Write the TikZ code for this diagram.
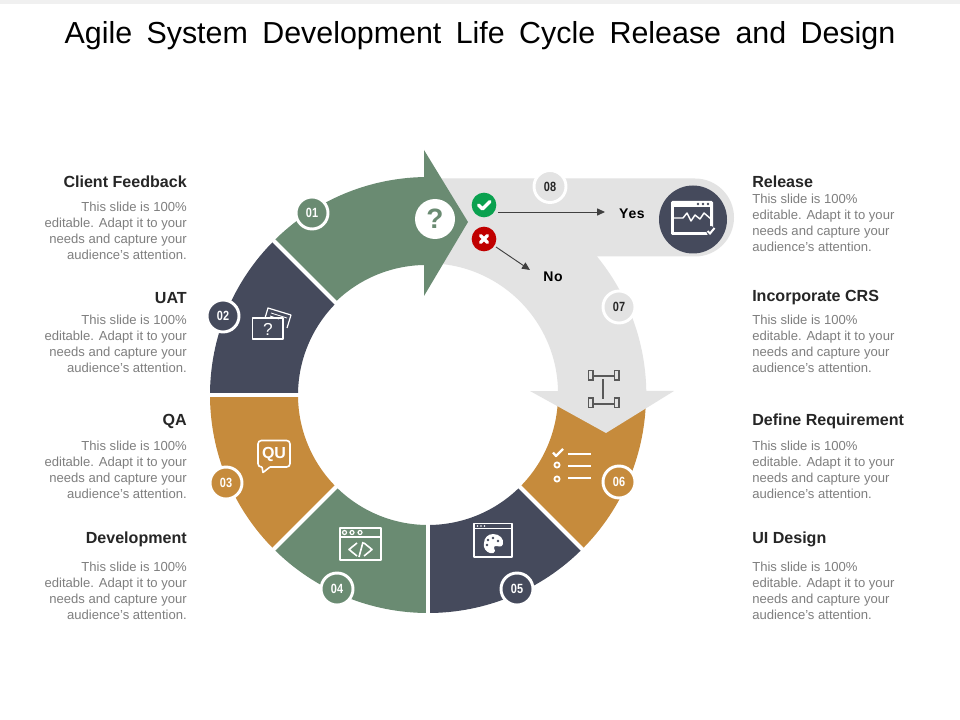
\documentclass[tikz,border=0pt]{standalone}
\usepackage{fontspec}
\setmainfont{Liberation Sans}
\newfontfamily\narrowf[FakeStretch=0.82]{Liberation Sans}
\newfontfamily\ansf[LetterSpace=5]{Liberation Sans}
\usetikzlibrary{arrows.meta}
\definecolor{cgreen}{HTML}{6A8B72}
\definecolor{cnavy}{HTML}{454A5C}
\definecolor{corange}{HTML}{C68B3C}
\definecolor{cgrey}{HTML}{E3E3E3}
\definecolor{ctext}{HTML}{7F7F7F}
\definecolor{cdark}{HTML}{262626}
\definecolor{cicon}{HTML}{595959}
\definecolor{cok}{HTML}{0AA14F}
\definecolor{cko}{HTML}{C00000}
\tikzset{
  head/.style={inner sep=0pt,text=cdark,font=\fontsize{12.05}{14}\selectfont\bfseries},
  bodyl/.style={inner sep=0pt,anchor=east,align=right,text=ctext,font=\fontsize{9.8}{12}\selectfont},
  bodyr/.style={inner sep=0pt,anchor=west,align=left,text=ctext,font=\fontsize{9.8}{12}\selectfont},
  badge/.style={circle,minimum size=24pt,inner sep=0pt,draw=white,line width=2.2pt,font=\fontsize{10}{11}\narrowf\bfseries},
  ico/.style={draw=white,line width=1.2pt,line join=round},
  ans/.style={inner sep=0pt,text=black,font=\fontsize{10.5}{12}\ansf\bfseries},
  flow/.style={draw=black!75,line width=0.7pt,-{Triangle[length=6pt,width=5.4pt]}}
}
\begin{document}
\begin{tikzpicture}[x=0.75pt,y=-0.75pt]
\useasboundingbox (0,0) rectangle (960,720);
\fill[white] (0,0) rectangle (960,720);
\fill[black!6] (0,0) rectangle (960,4);
\node[inner sep=0pt,text=black,font=\fontsize{22.8}{28}\selectfont] (title) at (480,36) {\spaceskip=10.8pt Agile System Development Life Cycle Release and Design};

% ring
\begin{scope}[shift={(428,395)},x=0.75pt,y=0.75pt]
  \fill[cnavy] (135:218) arc[start angle=135,end angle=180,radius=163.5pt] -- (180:130) arc[start angle=180,end angle=135,radius=97.5pt] -- cycle;
  \fill[corange] (180:218) arc[start angle=180,end angle=225,radius=163.5pt] -- (225:130) arc[start angle=225,end angle=180,radius=97.5pt] -- cycle;
  \fill[cgreen] (225:218) arc[start angle=225,end angle=270,radius=163.5pt] -- (270:130) arc[start angle=270,end angle=225,radius=97.5pt] -- cycle;
  \fill[cnavy] (270:218) arc[start angle=270,end angle=315,radius=163.5pt] -- (315:130) arc[start angle=315,end angle=270,radius=97.5pt] -- cycle;
  \fill[corange] (315:218) arc[start angle=315,end angle=360,radius=163.5pt] -- (0:130) arc[start angle=360,end angle=315,radius=97.5pt] -- cycle;
  % grey flow
  \fill[cgrey] (0,216.5) -- (267,216.5) arc[start angle=90,end angle=-90,radius=29.25pt] -- (169,138.5)
     arc[start angle=39.3,end angle=1,radius=163.5pt] -- (246,4) -- (178,-38) -- (102,4) -- (130,4)
     arc[start angle=1,end angle=90,radius=97.5pt] -- cycle;
  % green arrow
  \fill[cgreen] (135:218) arc[start angle=135,end angle=91,radius=163.5pt] -- (-4,245) -- (40,173) -- (-4,99) -- (-4,130)
     arc[start angle=91,end angle=135,radius=97.5pt] -- cycle;
  % gaps
  \foreach \a in {135,180,225,270,315}
    \draw[white,line width=3pt] (\a:126) -- (\a:222);
\end{scope}

% labels left
\node[head,anchor=east] (h1) at (187,181.5) {Client Feedback};
\node[bodyl] (b1) at (187,231) {This slide is 100\%\\editable. Adapt it to your\\needs and capture your\\audience's attention.};
\node[head,anchor=east] (h2) at (187,298) {UAT};
\node[bodyl] (b2) at (187,344) {This slide is 100\%\\editable. Adapt it to your\\needs and capture your\\audience's attention.};
\node[head,anchor=east] (h3) at (187,421) {QA};
\node[bodyl] (b3) at (187,470) {This slide is 100\%\\editable. Adapt it to your\\needs and capture your\\audience's attention.};
\node[head,anchor=east] (h4) at (187,539) {Development};
\node[bodyl] (b4) at (187,591) {This slide is 100\%\\editable. Adapt it to your\\needs and capture your\\audience's attention.};
% labels right
\node[head,anchor=west] (h5) at (752,181.5) {Release};
\node[bodyr] (b5) at (752,223) {This slide is 100\%\\editable. Adapt it to your\\needs and capture your\\audience's attention.};
\node[head,anchor=west] (h6) at (752,298) {Incorporate CRS};
\node[bodyr] (b6) at (752,344) {This slide is 100\%\\editable. Adapt it to your\\needs and capture your\\audience's attention.};
\node[head,anchor=west] (h7) at (752,421) {Define Requirement};
\node[bodyr] (b7) at (752,470) {This slide is 100\%\\editable. Adapt it to your\\needs and capture your\\audience's attention.};
\node[head,anchor=west] (h8) at (752,539) {UI Design};
\node[bodyr] (b8) at (752,591) {This slide is 100\%\\editable. Adapt it to your\\needs and capture your\\audience's attention.};

% badges
\node[badge,fill=cgreen,text=white] (n1) at (312,213) {01};
\node[badge,fill=cnavy,text=white] (n2) at (223,316) {02};
\node[badge,fill=corange,text=white] (n3) at (226,483) {03};
\node[badge,fill=cgreen,text=white] (n4) at (337,589) {04};
\node[badge,fill=cnavy,text=white] (n5) at (517,589) {05};
\node[badge,fill=corange,text=white] (n6) at (619,482) {06};
\node[badge,fill=cgrey,text=cdark] (n7) at (619,307) {07};
\node[badge,fill=cgrey,text=cdark] (n8) at (550,186.5) {08};

% question node
\node[circle,fill=white,minimum size=30pt,inner sep=0pt,text=cgreen,font=\fontsize{21}{22}\selectfont\bfseries] (q) at (435,219) {?};
% decisions
\node[circle,fill=cok,minimum size=18.5pt,inner sep=0pt] (ok) at (484,205) {};
\draw[white,line width=2.4pt,line cap=round,line join=round] (478.5,205) -- (482.5,209) -- (490,201.5);
\node[circle,fill=cko,minimum size=18.5pt,inner sep=0pt] (ko) at (484,239) {};
\draw[white,line width=2.6pt,line cap=round] (480.5,235.5) -- (487.5,242.5) (487.5,235.5) -- (480.5,242.5);
\node[ans] (yes) at (632,214) {Yes};
\node[ans] (no) at (553,277) {No};
\coordinate (yesA) at (498,212);
\coordinate (yesB) at (605,212);
\coordinate (noA) at (496,247);
\coordinate (noB) at (530,270);
\draw[flow] (yesA) -- (yesB);
\draw[flow] (noA) -- (noB);

% release icon
\node[circle,fill=cnavy,minimum size=51pt,inner sep=0pt] (rel) at (693,219.5) {};
\fill[white,rounded corners=1pt] (671,201) rectangle (713,235);
\fill[cnavy] (674,207) rectangle (710,232);
\draw[white,line width=1.1pt,line join=round] (674,218) -- (683,218) -- (687,213) -- (691,221) -- (695,215) -- (700,219) -- (704,213) -- (711,219);
\fill[cnavy] (698,204) circle (1.3) (703,204) circle (1.3) (708,204) circle (1.3);
\fill[cnavy] (711,231) circle (5);
\draw[white,line width=1.5pt] (707.5,231) -- (710,233.5) -- (714.5,228);

% 02 icon
\draw[ico] (252.5,318) rectangle (283,339);
\draw[ico,line width=0.9pt] (265,318) -- (268,308) -- (291,315) -- (287,328);
\draw[white,line width=0.6pt] (271,313) -- (287,318) (270,316) -- (279,319);
\node[inner sep=0pt,text=white,font=\fontsize{13}{14}\selectfont] (qi) at (268,329) {?};
% 03 icon
\draw[ico,rounded corners=2.5pt] (262,467) -- (258,467) -- (258,440.5) -- (290,440.5) -- (290,467) -- (270,467);
\draw[ico] (262,467) -- (263,472.5) -- (270,467);
\node[inner sep=0pt,text=white,font=\fontsize{12}{14}\selectfont\bfseries] (qu) at (274,454) {QU};
% 04 icon
\draw[ico] (340,528) rectangle (381,560);
\draw[ico] (340,537) -- (381,537);
\foreach \x in {344.5,352,360} \draw[white,line width=0.9pt] (\x,532.5) circle (2);
\draw[ico] (357,543) -- (349,549.5) -- (357,556) (364,543) -- (372,549.5) -- (364,556) (363,542) -- (359,557);
% 05 icon
\draw[ico] (474,523.5) rectangle (512,557);
\draw[white,line width=1pt] (474,528.5) -- (512,528.5);
\fill[white] (477.5,526) circle (0.9) (481,526) circle (0.9) (484.5,526) circle (0.9);
\fill[white] (493,534) .. controls (500,534) and (504,539) .. (503,544) .. controls (502,548) and (498,546) .. (496,546) .. controls (493,546) and (494,549) .. (495,551) .. controls (495,553) and (492,554) .. (490,553) .. controls (486,552) and (483,548) .. (484,543) .. controls (484,538) and (488,534) .. (493,534) -- cycle;
\fill[cnavy] (488,540) circle (1.3) (493,538) circle (1.3) (498,541) circle (1.3) (487,545) circle (1.3);
% 06 icon
\draw[white,line width=1.7pt,line join=round] (553,452.5) -- (556,456) -- (563,449);
\draw[white,line width=1.3pt] (557,465) circle (2.6) (557,479) circle (2.6);
\draw[white,line width=1.6pt] (568,454) -- (591,454) (568,466) -- (591,466) (568,478) -- (591,478);
% 07 icon
\draw[cicon,line width=1.1pt] (588.5,370.5) rectangle (593,380) (614.5,370.5) rectangle (619,380) (588.5,398) rectangle (593,407.5) (614.5,398) rectangle (619,407.5);
\draw[cicon,line width=1pt] (593,376) -- (614.5,376) (593,404) -- (614.5,404) (603,379) -- (603,399);
\end{tikzpicture}
\end{document}
